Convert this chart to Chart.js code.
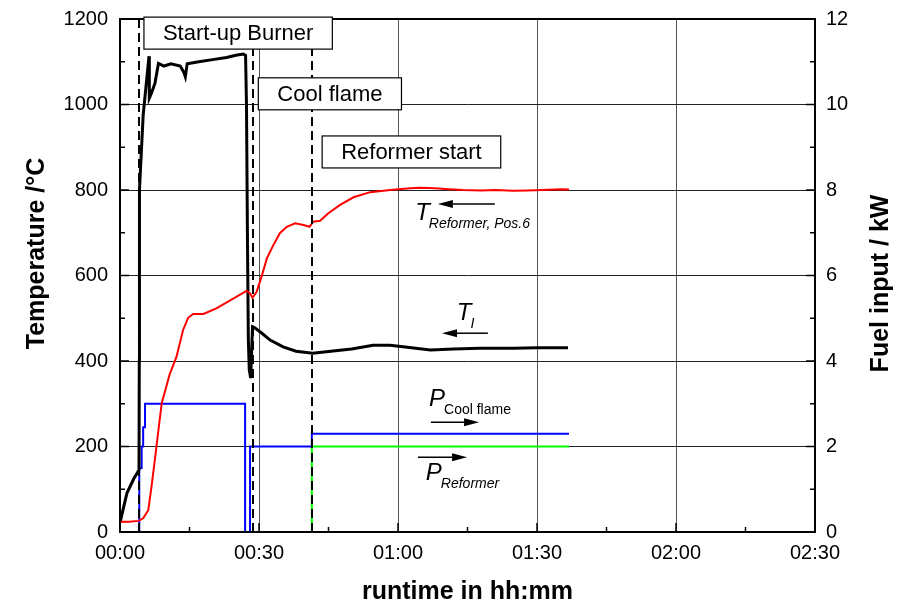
<!DOCTYPE html>
<html>
<head>
<meta charset="utf-8">
<script src="https://cdn.jsdelivr.net/npm/chart.js@4/dist/chart.umd.min.js"></script>
<style>
  html, body { margin: 0; padding: 0; background: #fff; }
</style>
</head>
<body>
<canvas id="chart" width="899" height="607"></canvas>
<script>
// ===================================================== DATA ===================================================== //

// T Reformer, Pos.6 (°C over runtime in minutes)
const tRefTime = [0, 2, 4, 5, 6.1, 6.8, 7.6, 8.3, 9, 10.7, 12.2, 13.6, 14.7, 15.8, 18, 20.8, 23.7, 27.3, 28.1, 28.6,
                  29.5, 30.6, 31.7, 33.1, 34.5, 36, 37.8, 39.6, 40.9, 41.7, 43.2, 44.9, 47.5, 50.4, 54, 58.3, 62.6,
                  64.8, 68, 71, 74, 78, 81, 84.8, 88, 91, 95.3, 96.9];
const tRefVal  = [24, 24, 26, 32, 51, 106, 176, 239, 301, 368, 410, 472, 501, 510, 510, 523, 541, 564, 558, 548,
                  562, 599, 640, 671, 699, 714, 722, 718, 714, 726, 728, 745, 765, 783, 795, 800, 804,
                  805, 804, 802, 800, 799, 800, 798, 799, 800, 802, 801];

// T_I (°C)
const tITime = [0, 1.5, 3, 4.1, 4.16, 4.2, 5.0, 5.4, 6.26, 6.33, 6.8, 7.55, 8.3, 9.5, 11, 13, 13.8, 14.1, 14.5, 17,
                20, 23, 25, 26.6, 27.1, 27.3, 27.5, 27.7, 27.9, 28.2, 28.4, 28.6, 29.0, 30.5, 32.4, 35.2, 38, 41.6,
                45, 50, 54.6, 58.3, 62, 67, 72, 77.7, 85, 90, 96.7];
const tIVal  = [22, 91, 125, 145, 400, 800, 975, 1019, 1113, 1015, 1027, 1050, 1096, 1090, 1095, 1090, 1075, 1065, 1095, 1100,
                1105, 1110, 1115, 1118, 1115, 1000, 700, 450, 380, 360, 420, 480, 478, 466, 449, 433, 423, 418,
                422, 428, 437, 437, 432, 426, 428, 430, 430, 431, 431];

// P Cool flame (kW, value holds from its time on)
const pCoolTime = [0, 4.16, 4.67, 5.0, 5.4, 27.0, 28.06, 41.4, 96.9];
const pCoolVal  = [0, 1.5, 2.0, 2.45, 3.0, 0, 2.0, 2.3, 2.3];

// P Reformer (kW)
const pRefTime = [0, 41.4, 96.9];
const pRefVal  = [0, 2.0, 2.0];

// event markers (minutes)
const eventTimes = [4.0, 28.6, 41.4];

const xTickLabels = ['00:00', '00:30', '01:00', '01:30', '02:00', '02:30'];

// boxed phase labels: text centre in data units
const boxNotes = [
  {text: 'Start-up Burner', t: 25.5, v: 1167},
  {text: 'Cool flame',      t: 45.3, v: 1025},
  {text: 'Reformer start',  t: 62.9, v: 889}
];

// curve labels with arrows (data units)
const curveNotes = [
  {main: 'T', sub: 'Reformer, Pos.6', subItalic: true,  t: 63.7, v: 730, from: 80.9, to: 68.6, av: 767},
  {main: 'T', sub: 'I',               subItalic: true,  t: 72.7, v: 496, from: 79.4, to: 69.5, av: 465},
  {main: 'P', sub: 'Cool flame',      subItalic: false, t: 66.7, v: 295, from: 67.1, to: 77.5, av: 257},
  {main: 'P', sub: 'Reformer',        subItalic: true,  t: 66.0, v: 122, from: 64.3, to: 74.9, av: 175}
];

const leftTitle  = 'Temperature /°C';
const rightTitle = 'Fuel input / kW';

// ==================================================== HELPERS ==================================================== //

const FONT = '"Liberation Sans", Arial, sans-serif';
const pts = (xs, ys) => xs.map((x, i) => ({x, y: ys[i]}));

function line(ctx, x1, y1, x2, y2) {
  ctx.beginPath(); ctx.moveTo(x1, y1); ctx.lineTo(x2, y2); ctx.stroke();
}

function arrow(ctx, x1, y, x2) {
  const dir = Math.sign(x2 - x1), head = 15;
  line(ctx, x1, y, x2 - dir * head, y);
  ctx.beginPath();
  ctx.moveTo(x2, y);
  ctx.lineTo(x2 - dir * head, y - 4);
  ctx.lineTo(x2 - dir * head, y + 4);
  ctx.closePath();
  ctx.fill();
}

function vTitle(ctx, text, cx, cy) {
  ctx.save();
  ctx.font = 'bold 25px ' + FONT;
  ctx.textAlign = 'center';
  ctx.textBaseline = 'middle';
  ctx.translate(cx, cy);
  ctx.rotate(-Math.PI / 2);
  ctx.fillText(text, 0, 0);
  ctx.restore();
}

// vertical axes: width pinned, no extra label overhang so the plot top sits on the layout padding
const pinWidth = w => s => { s.width = w; s.paddingTop = 0; s.paddingBottom = 0; };

// ==================================================== DECOR ==================================================== //

const decor = {
  id: 'decor',
  afterDatasetsDraw(chart) {
    const {ctx, chartArea: a, scales: {x, y, y1}} = chart;
    ctx.save();
    ctx.strokeStyle = '#000';
    ctx.fillStyle = '#000';

    // dashed event lines
    ctx.lineWidth = 2;
    ctx.setLineDash([9, 5]);
    eventTimes.forEach(t => {
      const px = Math.round(x.getPixelForValue(t));
      line(ctx, px, a.top, px, a.bottom);
    });
    ctx.setLineDash([]);

    // inward tick marks
    ctx.lineWidth = 1.5;
    for (let v = 0; v <= 1200; v += 100) {
      const py = y.getPixelForValue(v);
      line(ctx, a.left, py, a.left + (v % 200 ? 5 : 9), py);
    }
    for (let v = 0; v <= 12; v += 1) {
      const py = y1.getPixelForValue(v);
      line(ctx, a.right - (v % 2 ? 5 : 9), py, a.right, py);
    }
    for (let v = 0; v <= 150; v += 15) {
      const px = x.getPixelForValue(v);
      line(ctx, px, a.bottom - (v % 30 ? 5 : 9), px, a.bottom);
    }

    // frame
    ctx.lineWidth = 2;
    ctx.strokeRect(a.left, a.top, a.right - a.left, a.bottom - a.top);

    // boxed labels
    ctx.font = '22px ' + FONT;
    ctx.textAlign = 'center';
    ctx.textBaseline = 'middle';
    boxNotes.forEach(n => {
      const cx = x.getPixelForValue(n.t), cy = y.getPixelForValue(n.v);
      const w = ctx.measureText(n.text).width + 38, h = 32;
      ctx.fillStyle = '#fff';
      ctx.fillRect(cx - w / 2, cy - h / 2, w, h);
      ctx.lineWidth = 1.2;
      ctx.strokeRect(cx - w / 2, cy - h / 2, w, h);
      ctx.fillStyle = '#000';
      ctx.fillText(n.text, cx, cy + 1);
    });

    // curve labels
    ctx.textAlign = 'left';
    ctx.textBaseline = 'alphabetic';
    curveNotes.forEach(n => {
      const px = x.getPixelForValue(n.t), py = y.getPixelForValue(n.v);
      ctx.font = 'italic 24px ' + FONT;
      ctx.fillText(n.main, px, py);
      const w = ctx.measureText(n.main).width;
      ctx.font = (n.subItalic ? 'italic ' : '') + '14px ' + FONT;
      ctx.fillText(n.sub, px + w - 1, py + 8);
      ctx.lineWidth = 1.5;
      arrow(ctx, x.getPixelForValue(n.from), y.getPixelForValue(n.av), x.getPixelForValue(n.to));
    });

    // axis titles, both reading bottom to top
    const mid = (a.top + a.bottom) / 2;
    vTitle(ctx, leftTitle, 37, mid - 22);
    vTitle(ctx, rightTitle, 881, mid + 8);

    ctx.restore();
  }
};

// ==================================================== CHART ==================================================== //

const lineSet = (data, color, axis, width, stepped) => ({
  data, borderColor: color, backgroundColor: color, borderWidth: width,
  yAxisID: axis, pointRadius: 0, tension: 0, stepped: stepped || false
});

new Chart(document.getElementById('chart'), {
  type: 'line',
  data: {
    datasets: [
      lineSet(pts(tRefTime, tRefVal), '#ff0000', 'y', 2),
      lineSet(pts(tITime, tIVal), '#000000', 'y', 3),
      lineSet(pts(pCoolTime, pCoolVal), '#0000ff', 'y1', 2, 'before'),
      lineSet(pts(pRefTime, pRefVal), '#00ff00', 'y1', 2, 'before')
    ]
  },
  options: {
    responsive: false,
    animation: false,
    layout: {padding: {top: 19, left: 0, right: 0, bottom: 0}},
    plugins: {legend: {display: false}, tooltip: {enabled: false}},
    scales: {
      x: {
        type: 'linear', min: 0, max: 150,
        afterFit: s => { s.height = 75; },
        ticks: {stepSize: 30, padding: 9, color: '#000', font: {family: FONT, size: 20},
                callback: v => xTickLabels[v / 30]},
        grid: {color: '#555', lineWidth: 1, drawTicks: false},
        border: {display: false},
        title: {display: true, text: 'runtime in hh:mm', color: '#000', padding: 0,
                font: {family: FONT, size: 25, weight: 'bold'}}
      },
      y: {
        position: 'left', min: 0, max: 1200,
        afterFit: pinWidth(120),
        ticks: {stepSize: 200, padding: 12, color: '#000', font: {family: FONT, size: 20},
                callback: v => String(v)},
        grid: {color: '#222', lineWidth: 1, drawTicks: false},
        border: {display: false},
        title: {display: false}
      },
      y1: {
        position: 'right', min: 0, max: 12,
        afterFit: pinWidth(84),
        ticks: {stepSize: 2, padding: 11, color: '#000', font: {family: FONT, size: 20},
                callback: v => String(v)},
        grid: {drawOnChartArea: false, drawTicks: false},
        border: {display: false},
        title: {display: false}
      }
    }
  },
  plugins: [decor]
});
</script>
</body>
</html>
